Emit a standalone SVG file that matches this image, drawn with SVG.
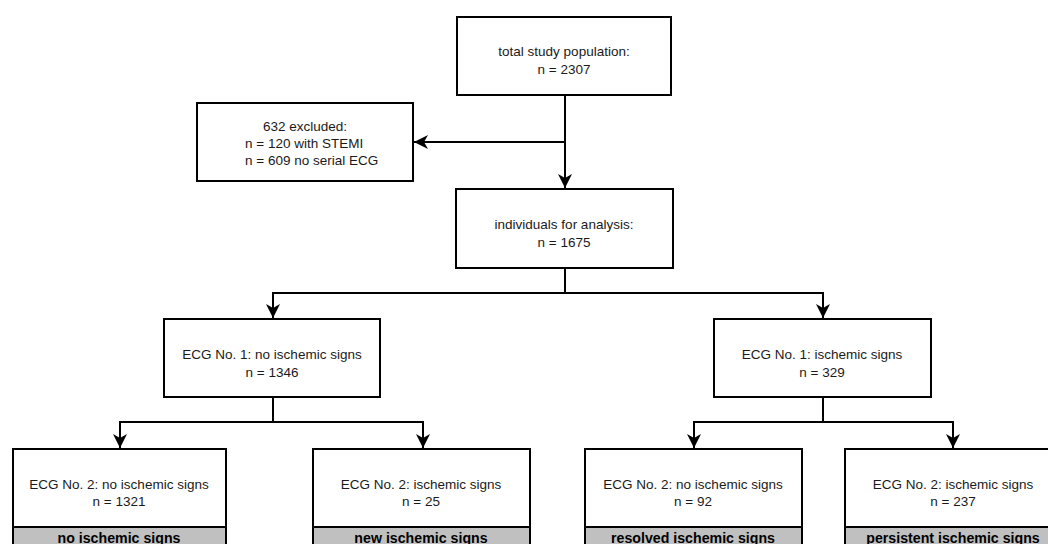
<svg xmlns="http://www.w3.org/2000/svg" width="1048" height="544" viewBox="0 0 1048 544">
<style>
.box{fill:#fff;stroke:#000;stroke-width:2}
.band{fill:#c0c0c0;stroke:#000;stroke-width:2}
.t{font-family:"Liberation Sans",Arial,sans-serif;font-size:13.5px;fill:#1a1a1a;text-anchor:middle}
.tl{text-anchor:start}
.b{font-family:"Liberation Sans",Arial,sans-serif;font-size:14.2px;font-weight:bold;fill:#000;text-anchor:middle}
.c{fill:none;stroke:#000;stroke-width:2}
</style>
<defs>
<marker id="arr" markerUnits="userSpaceOnUse" markerWidth="15" markerHeight="14" refX="14" refY="7" orient="auto">
<path d="M0,0 L14,7 L0,14 L4,7 Z" fill="#000"/>
</marker>
</defs>
<rect width="1048" height="544" fill="#fff"/>
<g id="connectors">
<path class="c" d="M565,95 V188" marker-end="url(#arr)"/>
<path class="c" d="M565,142 H414" marker-end="url(#arr)"/>
<path class="c" d="M565,268 V293"/>
<path class="c" d="M273,293 H823"/>
<path class="c" d="M273,292 V318" marker-end="url(#arr)"/>
<path class="c" d="M823,292 V318" marker-end="url(#arr)"/>
<path class="c" d="M273,397 V422"/>
<path class="c" d="M120,422 H423"/>
<path class="c" d="M120,421 V448" marker-end="url(#arr)"/>
<path class="c" d="M423,421 V448" marker-end="url(#arr)"/>
<path class="c" d="M823,397 V422"/>
<path class="c" d="M694,422 H953"/>
<path class="c" d="M694,421 V448" marker-end="url(#arr)"/>
<path class="c" d="M953,421 V448" marker-end="url(#arr)"/>
</g>
<g id="total">
<rect class="box" x="457" y="17" width="214" height="78"/>
<text class="t" x="564" y="56">total study population:</text>
<text class="t" x="564" y="74">n = 2307</text>
</g>
<g id="excluded">
<rect class="box" x="197" y="103" width="216" height="78"/>
<text class="t" x="305" y="131">632 excluded:</text>
<text class="t tl" x="245" y="148">n = 120 with STEMI</text>
<text class="t tl" x="245" y="165">n = 609 no serial ECG</text>
</g>
<g id="analysis">
<rect class="box" x="456" y="189" width="217" height="79"/>
<text class="t" x="564" y="229">individuals for analysis:</text>
<text class="t" x="564" y="247">n = 1675</text>
</g>
<g id="ecg1-no">
<rect class="box" x="164" y="319" width="216" height="78"/>
<text class="t" x="272" y="359">ECG No. 1: no ischemic signs</text>
<text class="t" x="272" y="377">n = 1346</text>
</g>
<g id="ecg1-yes">
<rect class="box" x="714" y="319" width="217" height="78"/>
<text class="t" x="822" y="359">ECG No. 1: ischemic signs</text>
<text class="t" x="822" y="377">n = 329</text>
</g>
<g id="no-signs">
<rect class="box" x="13" y="449" width="213" height="100"/>
<rect class="band" x="13" y="527" width="213" height="22"/>
<text class="t" x="119" y="489">ECG No. 2: no ischemic signs</text>
<text class="t" x="119" y="506">n = 1321</text>
<text class="b" x="119" y="543">no ischemic signs</text>
</g>
<g id="new-signs">
<rect class="box" x="313" y="449" width="217" height="100"/>
<rect class="band" x="313" y="527" width="217" height="22"/>
<text class="t" x="421" y="489">ECG No. 2: ischemic signs</text>
<text class="t" x="421" y="506">n = 25</text>
<text class="b" x="421" y="543">new ischemic signs</text>
</g>
<g id="resolved-signs">
<rect class="box" x="585" y="449" width="217" height="100"/>
<rect class="band" x="585" y="527" width="217" height="22"/>
<text class="t" x="693" y="489">ECG No. 2: no ischemic signs</text>
<text class="t" x="693" y="506">n = 92</text>
<text class="b" x="693" y="543">resolved ischemic signs</text>
</g>
<g id="persistent-signs">
<rect class="box" x="845" y="449" width="217" height="100"/>
<rect class="band" x="845" y="527" width="217" height="22"/>
<text class="t" x="953" y="489">ECG No. 2: ischemic signs</text>
<text class="t" x="953" y="506">n = 237</text>
<text class="b" x="953" y="543">persistent ischemic signs</text>
</g>
</svg>
